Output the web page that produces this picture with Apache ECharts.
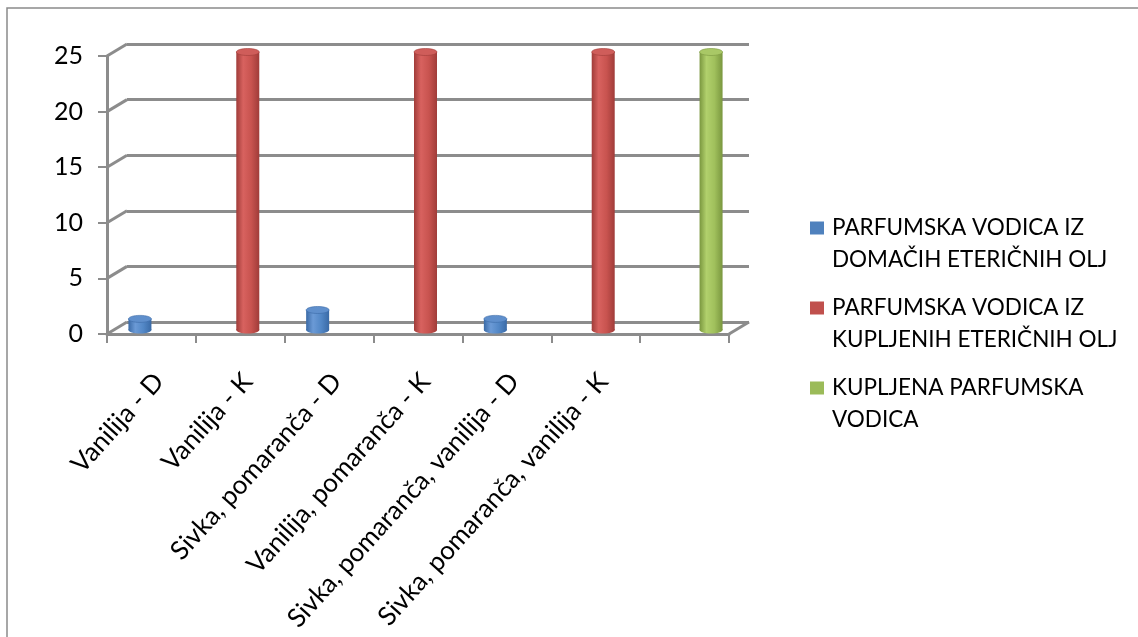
<!DOCTYPE html>
<html>
<head>
<meta charset="utf-8">
<script src="https://cdn.jsdelivr.net/npm/echarts@6/dist/echarts.min.js"></script>
<style>
  html, body { margin: 0; padding: 0; background: #ffffff; }
  #chart { width: 1138px; height: 637px; }
</style>
</head>
<body>
<div id="chart"></div>
<script>
// Categories along the floor of the chart (last slot carries only the store-bought bar)
const categories = [
  'Vanilija - D',
  'Vanilija - K',
  'Sivka, pomaranča - D',
  'Vanilija, pomaranča - K',
  'Sivka, pomaranča, vanilija - D',
  'Sivka, pomaranča, vanilija - K',
  ''
];
const seriesNames = [
  'PARFUMSKA VODICA IZ DOMAČIH ETERIČNIH OLJ',
  'PARFUMSKA VODICA IZ KUPLJENIH ETERIČNIH OLJ',
  'KUPLJENA PARFUMSKA VODICA'
];
const legendLabels = [
  'PARFUMSKA VODICA IZ\nDOMAČIH ETERIČNIH OLJ',
  'PARFUMSKA VODICA IZ\nKUPLJENIH ETERIČNIH OLJ',
  'KUPLJENA PARFUMSKA\nVODICA'
];
const domaciOlja = [1, null, 1.8, null, 1, null, null];
const kupljenaOlja = [null, 25, null, 25, null, 25, null];
const kupljenaVodica = [null, null, null, null, null, null, 25];
const yTicks = [0, 5, 10, 15, 20, 25];

// Layout / styling constants
const FONT = 'Lato, "Open Sans", sans-serif';
const GRAY = '#8c8c8c';
const DEPTH_X = 20, DEPTH_Y = -12;       // back wall offset
const PLOT = { left: 107, top: 56, width: 622, height: 278 };
const BAR_SHIFT_X = 7.5, BAR_SHIFT_Y = -4;
const BAR_W = 23, SLOT = 19;

const palette = [
  { base: '#4F81BD', edge: '#3a6aa6', light: '#6b9ad6', mid: '#5287c6', top: '#5f8fcc' },
  { base: '#C0504D', edge: '#a03c39', light: '#d8625f', mid: '#c8534f', top: '#cf5d5a' },
  { base: '#9BBB59', edge: '#7a973f', light: '#b1d06c', mid: '#a0c05c', top: '#a9c866' }
];

function toPairs(arr) {
  return arr.map((v, i) => [i, v == null ? '-' : v]);
}

function cylinder(offset, c) {
  return function (params, api) {
    const v = api.value(1);
    if (v == null || isNaN(v)) return;
    const idx = api.value(0);
    const base = api.coord([idx, 0]);
    const top = api.coord([idx, v]);
    const cx = base[0] + offset;
    const rx = BAR_W / 2, ry = 3.5;
    const grad = new echarts.graphic.LinearGradient(0, 0, 1, 0, [
      { offset: 0, color: c.edge },
      { offset: 0.3, color: c.light },
      { offset: 0.65, color: c.mid },
      { offset: 1, color: c.edge }
    ]);
    return {
      type: 'group',
      children: [
        { type: 'ellipse', shape: { cx: cx, cy: base[1], rx: rx, ry: ry }, style: { fill: grad } },
        { type: 'rect', shape: { x: cx - rx, y: top[1], width: BAR_W, height: base[1] - top[1] }, style: { fill: grad } },
        { type: 'ellipse', shape: { cx: cx, cy: top[1], rx: rx, ry: ry }, style: { fill: c.top, stroke: c.edge, lineWidth: 0.6 } }
      ]
    };
  };
}

// Diagonal edges joining the front axis with the back wall
function wallEdges(params, api) {
  const v = api.value(1);
  const p = api.coord([0, v]);
  const half = api.size([1, 0])[0] / 2;
  const x0 = p[0] - half;
  const children = [{
    type: 'line',
    shape: { x1: x0, y1: p[1], x2: x0 + DEPTH_X, y2: p[1] + DEPTH_Y },
    style: { stroke: GRAY, lineWidth: 3 }
  }];
  if (v === 0) {
    const q = api.coord([categories.length - 1, 0]);
    const x1 = q[0] + half;
    children.push({
      type: 'line',
      shape: { x1: x1, y1: q[1], x2: x1 + DEPTH_X, y2: q[1] + DEPTH_Y },
      style: { stroke: GRAY, lineWidth: 3 }
    });
  }
  return { type: 'group', children: children };
}

const seriesData = [domaciOlja, kupljenaOlja, kupljenaVodica];

const chart = echarts.init(document.getElementById('chart'), null, { renderer: 'canvas' });

const option = {
  backgroundColor: '#ffffff',
  animation: false,
  textStyle: { fontFamily: FONT },
  graphic: [
    {
      type: 'polyline',
      shape: { points: [[7, 660], [7, 8], [1160, 8]] },
      style: { stroke: '#8a8a8a', lineWidth: 1.5, fill: null }
    }
  ],
  grid: [
    { left: PLOT.left, top: PLOT.top, width: PLOT.width, height: PLOT.height },
    { left: PLOT.left + DEPTH_X, top: PLOT.top + DEPTH_Y, width: PLOT.width, height: PLOT.height },
    { left: PLOT.left + BAR_SHIFT_X, top: PLOT.top + BAR_SHIFT_Y, width: PLOT.width, height: PLOT.height }
  ],
  xAxis: [
    {
      gridIndex: 0, type: 'category', data: categories, boundaryGap: true,
      axisLine: { show: true, lineStyle: { color: GRAY, width: 3 } },
      axisTick: { show: true, interval: 0, length: 9, lineStyle: { color: GRAY, width: 2 } },
      axisLabel: { show: false },
      splitLine: { show: false }
    },
    {
      gridIndex: 1, type: 'category', data: categories, show: false
    },
    {
      gridIndex: 2, type: 'category', data: categories,
      axisLine: { show: false }, axisTick: { show: false }, splitLine: { show: false },
      axisLabel: {
        show: true, interval: 0, rotate: 48, margin: 47,
        color: '#000000', fontSize: 26, fontFamily: FONT
      }
    }
  ],
  yAxis: [
    {
      gridIndex: 0, type: 'value', min: 0, max: 25, interval: 5,
      axisLine: { show: true, lineStyle: { color: GRAY, width: 3 } },
      axisTick: { show: true, length: 9, lineStyle: { color: GRAY, width: 2 } },
      axisLabel: { show: true, margin: 24, color: '#000000', fontSize: 25, fontFamily: FONT },
      splitLine: { show: false }
    },
    {
      gridIndex: 1, type: 'value', min: 0, max: 25, interval: 5,
      axisLine: { show: false }, axisTick: { show: false }, axisLabel: { show: false },
      splitLine: { show: true, lineStyle: { color: GRAY, width: 3 } }
    },
    {
      gridIndex: 2, type: 'value', min: 0, max: 25, interval: 5, show: false
    }
  ],
  legend: {
    orient: 'vertical',
    left: 810,
    top: 180,
    padding: 0,
    itemGap: -16,
    itemWidth: 14,
    itemHeight: 13,
    icon: 'rect',
    data: seriesNames,
    selectedMode: false,
    // leading blank line keeps the first text line level with the colour key
    formatter: function (name) { return '\n' + legendLabels[seriesNames.indexOf(name)]; },
    textStyle: { color: '#000000', fontSize: 22.5, lineHeight: 32, fontFamily: FONT, padding: [0, 0, 0, 3] }
  },
  series: [
    {
      name: 'wall', type: 'custom', xAxisIndex: 0, yAxisIndex: 0, silent: true, clip: false,
      encode: { x: 0, y: 1 },
      data: yTicks.map(v => [0, v]),
      renderItem: wallEdges,
      z: 1
    }
  ].concat(seriesData.map((arr, s) => ({
    name: seriesNames[s],
    type: 'custom',
    xAxisIndex: 2, yAxisIndex: 2,
    clip: false,
    encode: { x: 0, y: 1 },
    itemStyle: { color: palette[s].base },
    data: toPairs(arr),
    renderItem: cylinder((s - 1) * SLOT, palette[s]),
    z: 5
  })))
};

chart.setOption(option);
</script>
</body>
</html>
